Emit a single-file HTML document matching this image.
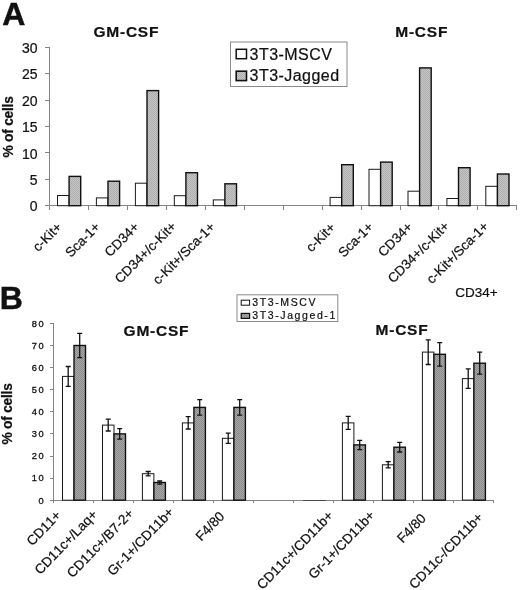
<!DOCTYPE html>
<html lang="en"><head><meta charset="utf-8"><title>Figure</title>
<style>html,body{margin:0;padding:0;background:#fff;}body{width:520px;height:590px;overflow:hidden;}svg{display:block;will-change:transform;}text{font-family:"Liberation Sans", Arial, Helvetica, sans-serif;fill:#111;font-kerning:none;stroke:#111;stroke-width:0.22px;}.ax{stroke:#858585;stroke-width:1;fill:none;shape-rendering:crispEdges;}.wb{fill:#fff;stroke:#1a1a1a;stroke-width:1.0;}.ga{fill:url(#pa);stroke:#111;stroke-width:1.4;}.gb{fill:url(#pb);stroke:#111;stroke-width:1.4;}.eb{stroke:#111;stroke-width:1.3;fill:none;}.tk{font-size:14px;text-anchor:end;}.tkb{font-size:9.3px;text-anchor:end;letter-spacing:1.4px;stroke:#111;stroke-width:0.3;}.xl{font-size:13.4px;text-anchor:end;}.xlb{font-size:13.5px;text-anchor:end;}.ttl{font-size:15.5px;font-weight:bold;letter-spacing:0.75px;}.yl{font-size:13.8px;font-weight:bold;text-anchor:middle;letter-spacing:-0.25px;}.pl{font-size:32px;font-weight:bold;stroke-width:0.5px;}</style></head><body>
<svg width="520" height="590" viewBox="0 0 520 590">
<defs><pattern id="pa" width="2" height="2" patternUnits="userSpaceOnUse"><rect width="2" height="2" fill="#c6c6c6"/><rect width="1" height="1" fill="#adadad"/><rect x="1" y="1" width="1" height="1" fill="#adadad"/></pattern><pattern id="pb" width="2" height="2" patternUnits="userSpaceOnUse"><rect width="2" height="2" fill="#a8a8a8"/><rect width="1" height="1" fill="#8a8a8a"/><rect x="1" y="1" width="1" height="1" fill="#8a8a8a"/></pattern></defs>
<rect width="520" height="590" fill="#fff"/>
<text class="pl" x="2.2" y="25.1">A</text>
<text class="ttl" x="93.5" y="37.4">GM-CSF</text>
<text class="ttl" x="395.3" y="36.8">M-CSF</text>
<path class="ax" d="M49.5 47.5V205.7H517"/>
<path class="ax" d="M44.5 205.7H49.5"/>
<text class="tk" x="37.6" y="211.3">0</text>
<path class="ax" d="M44.5 179.3H49.5"/>
<text class="tk" x="37.6" y="184.9">5</text>
<path class="ax" d="M44.5 152.9H49.5"/>
<text class="tk" x="37.6" y="158.5">10</text>
<path class="ax" d="M44.5 126.5H49.5"/>
<text class="tk" x="37.6" y="132.1">15</text>
<path class="ax" d="M44.5 100.1H49.5"/>
<text class="tk" x="37.6" y="105.7">20</text>
<path class="ax" d="M44.5 73.7H49.5"/>
<text class="tk" x="37.6" y="79.3">25</text>
<path class="ax" d="M44.5 47.3H49.5"/>
<text class="tk" x="37.6" y="52.9">30</text>
<path class="ax" d="M49.5 205.7V209.7"/>
<path class="ax" d="M88.4 205.7V209.7"/>
<path class="ax" d="M127.4 205.7V209.7"/>
<path class="ax" d="M166.3 205.7V209.7"/>
<path class="ax" d="M205.3 205.7V209.7"/>
<path class="ax" d="M244.2 205.7V209.7"/>
<path class="ax" d="M283.1 205.7V209.7"/>
<path class="ax" d="M322.1 205.7V209.7"/>
<path class="ax" d="M361.0 205.7V209.7"/>
<path class="ax" d="M400.0 205.7V209.7"/>
<path class="ax" d="M438.9 205.7V209.7"/>
<path class="ax" d="M477.8 205.7V209.7"/>
<path class="ax" d="M516.8 205.7V209.7"/>
<text class="yl" transform="translate(13.2 127) rotate(-90)">% of cells</text>
<rect class="wb" x="57.5" y="195.5" width="11.6" height="10.2"/>
<rect class="ga" x="69.1" y="176.4" width="11.6" height="29.3"/>
<rect class="wb" x="96.4" y="197.9" width="11.6" height="7.8"/>
<rect class="ga" x="108.0" y="181.2" width="11.6" height="24.5"/>
<rect class="wb" x="135.4" y="183.2" width="11.6" height="22.5"/>
<rect class="ga" x="147.0" y="90.6" width="11.6" height="115.1"/>
<rect class="wb" x="174.3" y="195.7" width="11.6" height="10.0"/>
<rect class="ga" x="185.9" y="172.7" width="11.6" height="33.0"/>
<rect class="wb" x="213.3" y="199.9" width="11.6" height="5.8"/>
<rect class="ga" x="224.9" y="183.8" width="11.6" height="21.9"/>
<rect class="wb" x="330.1" y="197.4" width="11.6" height="8.3"/>
<rect class="ga" x="341.7" y="164.7" width="11.6" height="41.0"/>
<rect class="wb" x="369.0" y="169.3" width="11.6" height="36.4"/>
<rect class="ga" x="380.6" y="162.1" width="11.6" height="43.6"/>
<rect class="wb" x="408.0" y="191.2" width="11.6" height="14.5"/>
<rect class="ga" x="419.6" y="67.9" width="11.6" height="137.8"/>
<rect class="wb" x="446.9" y="198.5" width="11.6" height="7.2"/>
<rect class="ga" x="458.5" y="167.7" width="11.6" height="38.0"/>
<rect class="wb" x="485.8" y="186.3" width="11.6" height="19.4"/>
<rect class="ga" x="497.4" y="174.0" width="11.6" height="31.7"/>
<text class="xl" transform="translate(62.6 227.9) rotate(-45)">c-Kit+</text>
<text class="xl" transform="translate(100.9 227.8) rotate(-45)">Sca-1+</text>
<text class="xl" transform="translate(139.8 227.8) rotate(-45)">CD34+</text>
<text class="xl" transform="translate(177.1 227.2) rotate(-45)">CD34+/c-Kit+</text>
<text class="xl" transform="translate(215.7 227.8) rotate(-45)">c-Kit+/Sca-1+</text>
<text class="xl" transform="translate(336.0 228.3) rotate(-45)">c-Kit+</text>
<text class="xl" transform="translate(374.0 227.8) rotate(-45)">Sca-1+</text>
<text class="xl" transform="translate(413.2 227.8) rotate(-45)">CD34+</text>
<text class="xl" transform="translate(450.0 226.9) rotate(-45)">CD34+/c-Kit+</text>
<text class="xl" transform="translate(489.3 227.1) rotate(-45)">c-Kit+/Sca-1+</text>
<text style="font-size:13.5px" x="455.2" y="297.3">CD34+</text>
<rect x="230.5" y="42" width="116.5" height="44.5" fill="#fff" stroke="#8a8a8a" stroke-width="1"/>
<rect x="236.2" y="49.3" width="10.3" height="9.4" fill="#fff" stroke="#111" stroke-width="1.5"/>
<rect x="236.2" y="71.2" width="10.3" height="9.4" fill="url(#pa)" stroke="#111" stroke-width="1.6"/>
<text style="font-size:16px;letter-spacing:0.45px" x="249.6" y="59.5">3T3-MSCV</text>
<text style="font-size:16px;letter-spacing:0.45px" x="249.6" y="81.4">3T3-Jagged</text>
<text class="pl" x="-0.3" y="309.1">B</text>
<text class="ttl" x="123.6" y="336.3">GM-CSF</text>
<text class="ttl" x="375.6" y="335">M-CSF</text>
<path class="ax" d="M53.75 323.3V500.2H493.8"/>
<path class="ax" d="M50 500.2H53.75"/>
<text class="tkb" x="45" y="503.5">0</text>
<path class="ax" d="M50 478.1H53.75"/>
<text class="tkb" x="45" y="481.4">10</text>
<path class="ax" d="M50 456.0H53.75"/>
<text class="tkb" x="45" y="459.3">20</text>
<path class="ax" d="M50 433.9H53.75"/>
<text class="tkb" x="45" y="437.2">30</text>
<path class="ax" d="M50 411.8H53.75"/>
<text class="tkb" x="45" y="415.1">40</text>
<path class="ax" d="M50 389.7H53.75"/>
<text class="tkb" x="45" y="393.0">50</text>
<path class="ax" d="M50 367.6H53.75"/>
<text class="tkb" x="45" y="370.9">60</text>
<path class="ax" d="M50 345.5H53.75"/>
<text class="tkb" x="45" y="348.8">70</text>
<path class="ax" d="M50 323.4H53.75"/>
<text class="tkb" x="45" y="326.7">80</text>
<path class="ax" d="M53.75 500.2V502.8"/>
<path class="ax" d="M93.75 500.2V502.8"/>
<path class="ax" d="M133.75 500.2V502.8"/>
<path class="ax" d="M173.75 500.2V502.8"/>
<path class="ax" d="M213.75 500.2V502.8"/>
<path class="ax" d="M253.75 500.2V502.8"/>
<path class="ax" d="M293.75 500.2V502.8"/>
<path class="ax" d="M333.75 500.2V502.8"/>
<path class="ax" d="M373.75 500.2V502.8"/>
<path class="ax" d="M413.75 500.2V502.8"/>
<path class="ax" d="M453.75 500.2V502.8"/>
<path class="ax" d="M493.75 500.2V502.8"/>
<text class="yl" transform="translate(11.7 414) rotate(-90)">% of cells</text>
<rect class="wb" x="62.5" y="376.4" width="11.5" height="123.8"/>
<rect class="gb" x="74.0" y="345.5" width="11.5" height="154.7"/>
<path class="eb" d="M68.2 366.5V386.4M65.7 366.5h5M65.7 386.4h5"/>
<path class="eb" d="M79.7 333.3V357.7M77.2 333.3h5M77.2 357.7h5"/>
<rect class="wb" x="102.5" y="425.1" width="11.5" height="75.1"/>
<rect class="gb" x="114.0" y="433.9" width="11.5" height="66.3"/>
<path class="eb" d="M108.2 419.1V431.0M105.7 419.1h5M105.7 431.0h5"/>
<path class="eb" d="M119.7 428.6V439.2M117.2 428.6h5M117.2 439.2h5"/>
<rect class="wb" x="142.4" y="473.7" width="11.5" height="26.5"/>
<rect class="gb" x="153.9" y="482.5" width="11.5" height="17.7"/>
<path class="eb" d="M148.2 471.5V475.9M145.7 471.5h5M145.7 475.9h5"/>
<path class="eb" d="M159.7 481.0V484.1M157.2 481.0h5M157.2 484.1h5"/>
<rect class="wb" x="182.4" y="422.9" width="11.5" height="77.3"/>
<rect class="gb" x="193.9" y="407.4" width="11.5" height="92.8"/>
<path class="eb" d="M188.2 416.7V429.0M185.7 416.7h5M185.7 429.0h5"/>
<path class="eb" d="M199.7 399.6V415.1M197.2 399.6h5M197.2 415.1h5"/>
<rect class="wb" x="222.4" y="438.3" width="11.5" height="61.9"/>
<rect class="gb" x="233.9" y="407.4" width="11.5" height="92.8"/>
<path class="eb" d="M228.2 433.2V443.4M225.7 433.2h5M225.7 443.4h5"/>
<path class="eb" d="M239.7 399.6V415.1M237.2 399.6h5M237.2 415.1h5"/>
<rect class="wb" x="342.4" y="422.9" width="11.5" height="77.3"/>
<rect class="gb" x="353.9" y="444.9" width="11.5" height="55.2"/>
<path class="eb" d="M348.2 416.4V429.3M345.7 416.4h5M345.7 429.3h5"/>
<path class="eb" d="M359.7 440.3V449.6M357.2 440.3h5M357.2 449.6h5"/>
<rect class="wb" x="382.4" y="464.8" width="11.5" height="35.4"/>
<rect class="gb" x="393.9" y="447.2" width="11.5" height="53.0"/>
<path class="eb" d="M388.2 461.7V467.9M385.7 461.7h5M385.7 467.9h5"/>
<path class="eb" d="M399.7 442.3V452.0M397.2 442.3h5M397.2 452.0h5"/>
<rect class="wb" x="422.4" y="352.1" width="11.5" height="148.1"/>
<rect class="gb" x="433.9" y="354.3" width="11.5" height="145.9"/>
<path class="eb" d="M428.2 339.8V364.5M425.7 339.8h5M425.7 364.5h5"/>
<path class="eb" d="M439.7 342.6V366.1M437.2 342.6h5M437.2 366.1h5"/>
<rect class="wb" x="462.4" y="378.6" width="11.5" height="121.5"/>
<rect class="gb" x="473.9" y="363.2" width="11.5" height="137.0"/>
<path class="eb" d="M468.2 368.9V388.4M465.7 368.9h5M465.7 388.4h5"/>
<path class="eb" d="M479.7 352.1V374.2M477.2 352.1h5M477.2 374.2h5"/>
<path d="M302.5 500.5H325.5" stroke="#4a4a4a" stroke-width="1" shape-rendering="crispEdges"/>
<text class="xlb" transform="translate(61.8 516.0) rotate(-46)">CD11+</text>
<text class="xlb" transform="translate(98.2 515.3) rotate(-46)">CD11c+/Laq+</text>
<text class="xlb" transform="translate(134.5 514.2) rotate(-46)">CD11c+/B7-2+</text>
<text class="xlb" transform="translate(174.6 512.9) rotate(-46)">Gr-1+/CD11b+</text>
<text class="xlb" transform="translate(225.2 517.0) rotate(-46)">F4/80</text>
<text class="xlb" transform="translate(333.9 516.3) rotate(-46)">CD11c+/CD11b+</text>
<text class="xlb" transform="translate(375.6 516.1) rotate(-46)">Gr-1+/CD11b+</text>
<text class="xlb" transform="translate(426.8 519.0) rotate(-46)">F4/80</text>
<text class="xlb" transform="translate(483.8 518.2) rotate(-46)">CD11c-/CD11b+</text>
<rect x="237" y="294.8" width="100.8" height="26.7" fill="#fff" stroke="#8a8a8a" stroke-width="1"/>
<rect x="241.2" y="300.2" width="8.4" height="5" fill="#fff" stroke="#111" stroke-width="1"/>
<rect x="241.2" y="313.4" width="8.4" height="5" fill="url(#pb)" stroke="#111" stroke-width="1.2"/>
<text style="font-size:10.5px;letter-spacing:1.6px" x="252.3" y="306.3">3T3-MSCV</text>
<text style="font-size:10.5px;letter-spacing:1.6px" x="252.3" y="319.4">3T3-Jagged-1</text>
</svg></body></html>
